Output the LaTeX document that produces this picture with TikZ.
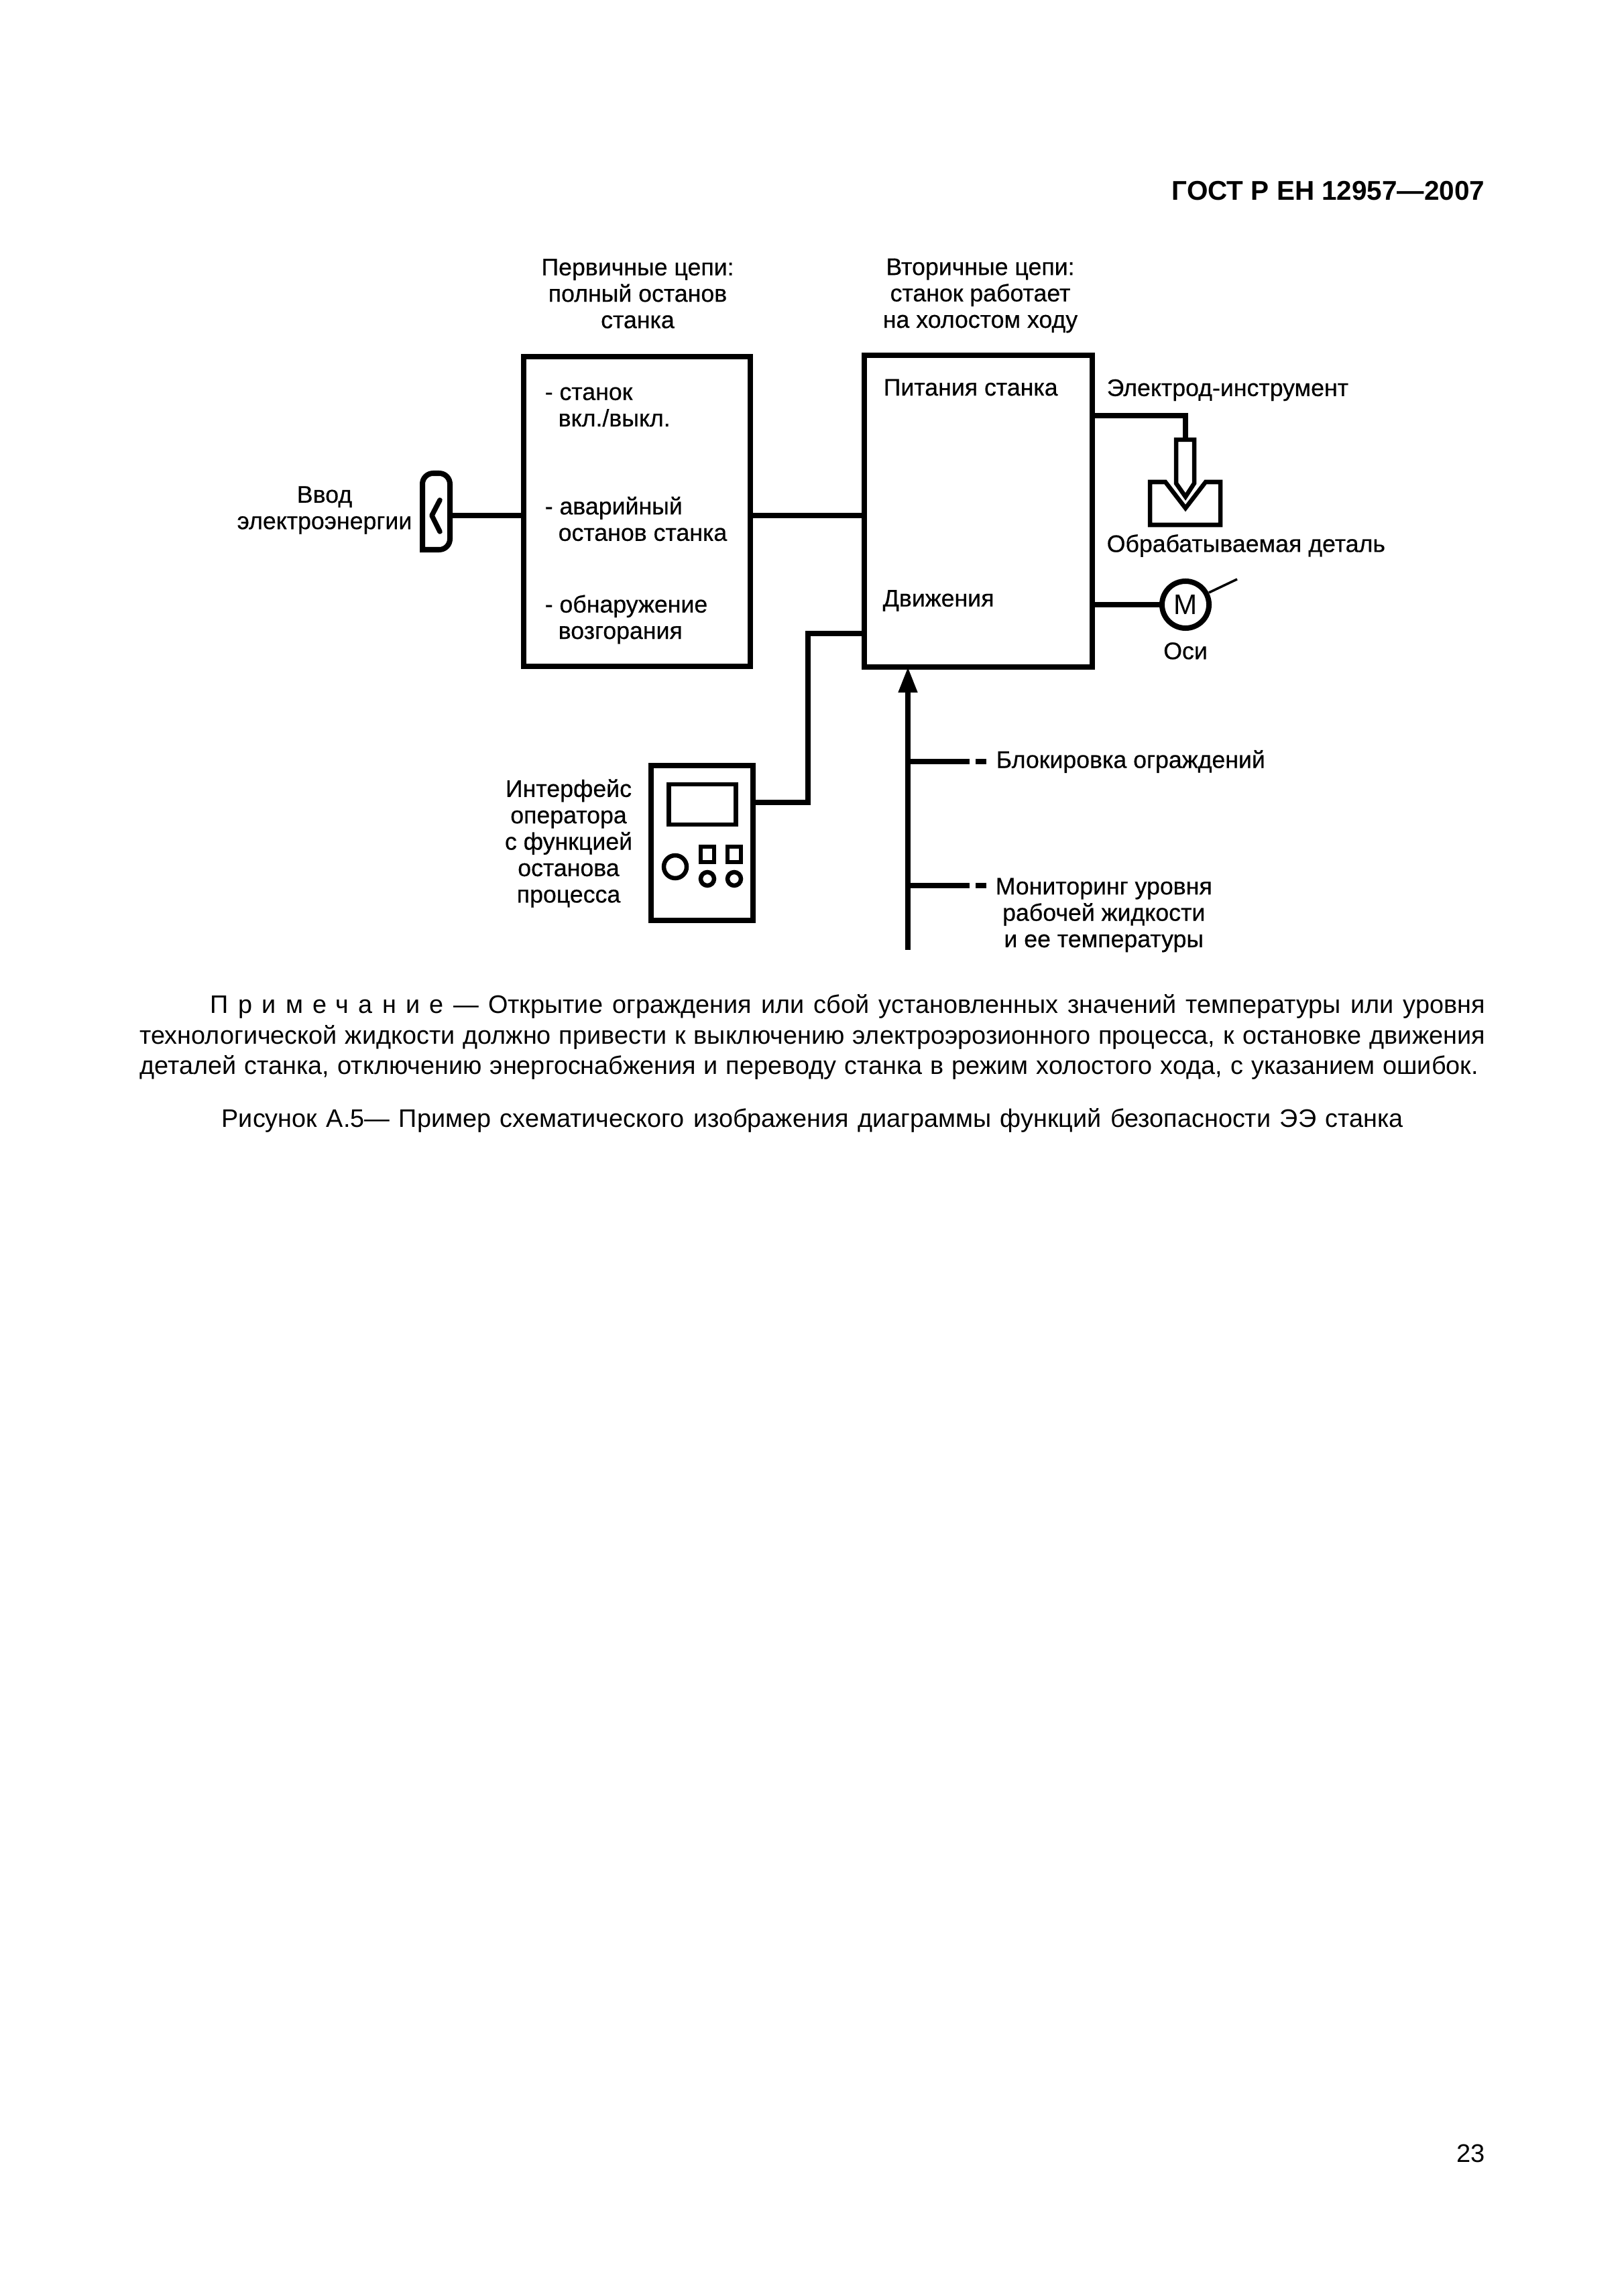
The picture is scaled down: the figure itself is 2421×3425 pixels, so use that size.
\documentclass[tikz,border=0pt]{standalone}
\usepackage{fontspec}
\setmainfont{Liberation Sans}
\newfontfamily\figfont{Liberation Sans}[RawFeature={embolden=0.5}]
\usetikzlibrary{arrows.meta}
\tikzset{
  blockbox/.style={draw,line width=.08cm,rectangle,outer sep=0pt,inner sep=0pt},
  thinbox/.style={draw,line width=.065cm,rectangle,outer sep=0pt,inner sep=0pt},
  wire/.style={line width=.075cm},
  lab/.style={font=\figfont\fontsize{10.15}{11.2}\selectfont,inner sep=0pt,align=center},
  labl/.style={lab,anchor=west,align=left},
  bodyline/.style={font=\fontsize{10.75}{13}\selectfont,inner sep=0pt,anchor=west}
}
\begin{document}
\begin{tikzpicture}[x=.01cm,y=-.01cm]
\useasboundingbox (0,0) rectangle (2421,3425);
\node[font=\bfseries\fontsize{11.5}{14}\selectfont,inner sep=0pt,anchor=east] (hdr) at (2215,285) {ГОСТ Р ЕН 12957—2007};
\node[blockbox,minimum width=3.38cm,minimum height=4.62cm] (prim) at (950,763) {};
\node[blockbox,minimum width=3.40cm,minimum height=4.65cm] (sec) at (1459,762.5) {};
\node[blockbox,minimum width=1.52cm,minimum height=2.31cm] (panel) at (1047,1257.5) {};
\node[thinbox,minimum width=.995cm,minimum height=.6cm] (screen) at (1047.5,1200) {};
\node[thinbox,circle,minimum size=.34cm] (knob) at (1007,1293) {};
\node[thinbox,minimum width=.2cm,minimum height=.23cm] (sqa) at (1055,1274.5) {};
\node[thinbox,minimum width=.2cm,minimum height=.23cm] (sqb) at (1095,1274.5) {};
\node[thinbox,circle,minimum size=.2cm] (dota) at (1055,1311) {};
\node[thinbox,circle,minimum size=.2cm] (dotb) at (1095,1311) {};
\node[blockbox,circle,minimum size=.7cm,font=\fontsize{12}{14}\selectfont] (motor) at (1768,902) {М};
\coordinate (plugout) at (671,769);
\draw[blockbox,rounded corners=.16cm] (671,706) -- (630,706) [sharp corners] -- (630,820) [rounded corners=.16cm] -- (671,820) -- cycle;
\draw[wire,line cap=round,line join=round] (656,746) -- (644,769) -- (656,793);
\draw[wire] (plugout) -- (prim.west |- plugout);
\draw[wire] (prim.east |- plugout) -- (sec.west |- plugout);
\coordinate (panelout) at (1123,1197);
\coordinate (bendp) at (1205,1197);
\coordinate (secp) at (1289,945);
\draw[wire] (panelout) -- (bendp) |- (secp);
\coordinate (elecin) at (1629,620);
\coordinate (elect) at (1768,656);
\draw[wire] (elecin) -| (elect);
\draw[thinbox,line join=miter] (1754,656) -- (1781,656) -- (1781,721) -- (1768,741) -- (1754,721) -- cycle;
\draw[thinbox,line join=miter] (1715,719) -- (1738,719) -- (1768,758) -- (1798,719) -- (1820,719) -- (1820,783) -- (1715,783) -- cycle;
\coordinate (motin) at (1629,902);
\draw[wire] (motin) -- (motor.west);
\coordinate (shafta) at (1803,884);
\coordinate (shaftb) at (1845,864);
\draw[line width=.035cm] (shafta) -- (shaftb);
\coordinate (inpbot) at (1354,1417);
\coordinate (inptop) at (1354,995);
\draw[wire,-{Triangle[width=.27cm,length=.38cm]}] (inpbot) -- (inptop);
\foreach \yy in {1136,1321}{
  \draw[wire] (1354,\yy) -- (1446,\yy);
  \draw[wire] (1455,\yy) -- (1471,\yy);
}
\node[lab] (titlep) at (951,438) {Первичные цепи:\\полный останов\\станка};
\node[lab] (titles) at (1462,441) {Вторичные цепи:\\станок работает\\на холостом ходу};
\node[lab] (inlab) at (484,761) {Ввод\\электроэнергии};
\node[labl] (pa) at (812,607) {- станок\\\hspace*{.2cm}вкл./выкл.};
\node[labl] (pb) at (812,774) {- аварийный\\\hspace*{.2cm}останов станка};
\node[labl] (pc) at (812,924) {- обнаружение\\\hspace*{.2cm}возгорания};
\node[labl] (sa) at (1317,578) {Питания станка};
\node[labl] (sb) at (1316,896) {Движения};
\node[labl] (ela) at (1650,582) {Электрод-инструмент};
\node[labl] (elb) at (1650,814) {Обрабатываемая деталь};
\node[lab] (axes) at (1768,971) {Оси};
\node[lab] (oper) at (848,1258) {Интерфейс\\оператора\\с функцией\\останова\\процесса};
\node[labl] (guard) at (1485,1136) {Блокировка ограждений};
\node[lab,anchor=west] (level) at (1484,1365) {Мониторинг уровня\\рабочей жидкости\\и ее температуры};
\node[bodyline] (nota) at (313,1501) {\makebox[19.00cm][s]{{\addfontfeature{LetterSpace=38}Примечание} — Открытие ограждения или сбой установленных значений температуры или уровня}};
\node[bodyline] (notb) at (208,1547) {\makebox[20.05cm][s]{технологической жидкости должно привести к выключению электроэрозионного процесса, к остановке движения}};
\node[bodyline] (notc) at (208,1592) {\makebox[19.95cm][s]{деталей станка, отключению энергоснабжения и переводу станка в режим холостого хода, с указанием ошибок.}};
\node[bodyline] (capt) at (330,1671) {\makebox[17.61cm][s]{Рисунок А.5— Пример схематического изображения диаграммы функций безопасности ЭЭ станка}};
\node[font=\fontsize{10.8}{13}\selectfont,inner sep=0pt,anchor=east] (pagenum) at (2215,3212) {23};
\end{tikzpicture}
\end{document}
